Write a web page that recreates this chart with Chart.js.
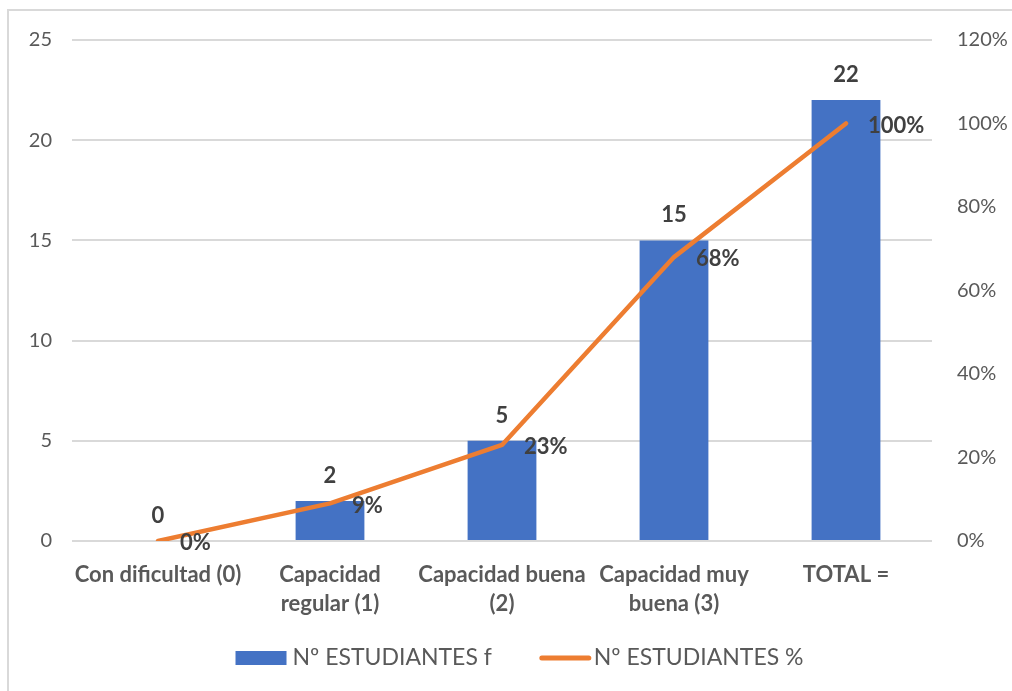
<!DOCTYPE html>
<html>
<head>
<meta charset="utf-8">
<script src="https://cdn.jsdelivr.net/npm/chart.js@4/dist/chart.umd.min.js"></script>
<style>
  html, body { margin: 0; padding: 0; background: #ffffff; }
  #wrap { position: relative; width: 1012px; height: 691px; }
  canvas { display: block; }
</style>
</head>
<body>
<div id="wrap"><canvas id="chart" width="1012" height="691"></canvas></div>
<script>
// Categories and series
const categories = [
  'Con dificultad (0)',
  ['Capacidad', 'regular (1)'],
  ['Capacidad buena', '(2)'],
  ['Capacidad muy', 'buena (3)'],
  'TOTAL ='
];
const studentCounts = [0, 2, 5, 15, 22];          // Nº ESTUDIANTES f
const studentPercents = [0, 9, 23, 68, 100];      // Nº ESTUDIANTES %
const countAxisTicks = { min: 0, max: 25, step: 5 };
const percentAxisTicks = { min: 0, max: 120, step: 20 };
const seriesNames = ['Nº ESTUDIANTES f', 'Nº ESTUDIANTES %'];

const FONT = 'Lato, "Open Sans", sans-serif';
const BLUE = '#4472C4';
const ORANGE = '#ED7D31';
const AXIS_TEXT = '#595959';
const LABEL_TEXT = '#404040';
const GRID = '#d9d9d9';

// Thin frame along the top and left edges
const frame = {
  id: 'frame',
  beforeDraw(chart) {
    const ctx = chart.ctx;
    ctx.save();
    ctx.strokeStyle = GRID;
    ctx.lineWidth = 2;
    ctx.beginPath();
    ctx.moveTo(8, chart.height);
    ctx.lineTo(8, 10);
    ctx.lineTo(chart.width, 10);
    ctx.stroke();
    ctx.restore();
  }
};

// Value labels: counts above bars, percentages to the right of line points
const valueLabels = {
  id: 'valueLabels',
  afterDatasetsDraw(chart) {
    const ctx = chart.ctx;
    ctx.save();
    ctx.font = 'bold 22px ' + FONT;
    ctx.fillStyle = LABEL_TEXT;
    ctx.textBaseline = 'middle';
    chart.data.datasets.forEach((ds, i) => {
      const meta = chart.getDatasetMeta(i);
      meta.data.forEach((el, j) => {
        const v = ds.data[j];
        if (ds.type === 'bar') {
          ctx.textAlign = 'center';
          ctx.fillText(String(v), el.x, el.y - 25);
        } else {
          ctx.textAlign = 'left';
          ctx.fillText(v + '%', el.x + 22, el.y + 2);
        }
      });
    });
    ctx.restore();
  }
};

// Legend row under the axis labels
const bottomLegend = {
  id: 'bottomLegend',
  afterDraw(chart) {
    const ctx = chart.ctx;
    ctx.save();
    ctx.font = '23px ' + FONT;
    ctx.textBaseline = 'middle';
    ctx.textAlign = 'left';
    const keyW = 51, keyGap = 6, itemGap = 48;
    const w0 = ctx.measureText(seriesNames[0]).width;
    const w1 = ctx.measureText(seriesNames[1]).width;
    const total = keyW + keyGap + w0 + itemGap + keyW + keyGap + w1;
    const cy = 658;
    let x = 521 - total / 2;
    ctx.fillStyle = BLUE;
    ctx.fillRect(x, cy - 7, keyW, 14);
    x += keyW + keyGap;
    ctx.fillStyle = AXIS_TEXT;
    ctx.fillText(seriesNames[0], x, cy);
    x += w0 + itemGap;
    ctx.strokeStyle = ORANGE;
    ctx.lineWidth = 5;
    ctx.lineCap = 'round';
    ctx.beginPath();
    ctx.moveTo(x + 2, cy);
    ctx.lineTo(x + keyW - 2, cy);
    ctx.stroke();
    x += keyW + keyGap - 3;
    ctx.fillStyle = AXIS_TEXT;
    ctx.fillText(seriesNames[1], x, cy);
    ctx.restore();
  }
};

new Chart(document.getElementById('chart'), {
  data: {
    labels: categories,
    datasets: [
      {
        type: 'line',
        label: seriesNames[1],
        data: studentPercents,
        yAxisID: 'yPct',
        borderColor: ORANGE,
        borderWidth: 4.5,
        borderCapStyle: 'round',
        borderJoinStyle: 'round',
        pointRadius: 0,
        tension: 0,
        order: 0
      },
      {
        type: 'bar',
        label: seriesNames[0],
        data: studentCounts,
        yAxisID: 'y',
        backgroundColor: BLUE,
        barPercentage: 0.4,
        categoryPercentage: 1,
        order: 1
      }
    ]
  },
  options: {
    responsive: false,
    animation: false,
    devicePixelRatio: 1,
    layout: { padding: { top: 40, left: 0, right: 0, bottom: 0 } },
    plugins: {
      legend: { display: false },
      tooltip: { enabled: false },
      title: { display: false }
    },
    scales: {
      x: {
        grid: { display: false, drawTicks: false },
        border: { display: false },
        ticks: {
          color: AXIS_TEXT,
          font: { family: FONT, size: 22, weight: 'bold', lineHeight: 1.32 },
          padding: 19,
          maxRotation: 0,
          autoSkip: false
        },
        afterFit(scale) { scale.height = 150; }
      },
      y: {
        position: 'left',
        min: countAxisTicks.min,
        max: countAxisTicks.max,
        grid: { color: GRID, lineWidth: 2, drawTicks: false },
        border: { display: false },
        ticks: {
          stepSize: countAxisTicks.step,
          color: AXIS_TEXT,
          font: { family: FONT, size: 20 },
          padding: 20
        },
        afterFit(scale) { scale.width = 72; }
      },
      yPct: {
        position: 'right',
        min: percentAxisTicks.min,
        max: percentAxisTicks.max,
        grid: { display: false, drawTicks: false },
        border: { display: false },
        ticks: {
          stepSize: percentAxisTicks.step,
          color: AXIS_TEXT,
          font: { family: FONT, size: 20 },
          padding: 25,
          callback: (v) => v + '%'
        },
        afterFit(scale) { scale.width = 80; }
      }
    }
  },
  plugins: [frame, valueLabels, bottomLegend]
});
</script>
</body>
</html>
